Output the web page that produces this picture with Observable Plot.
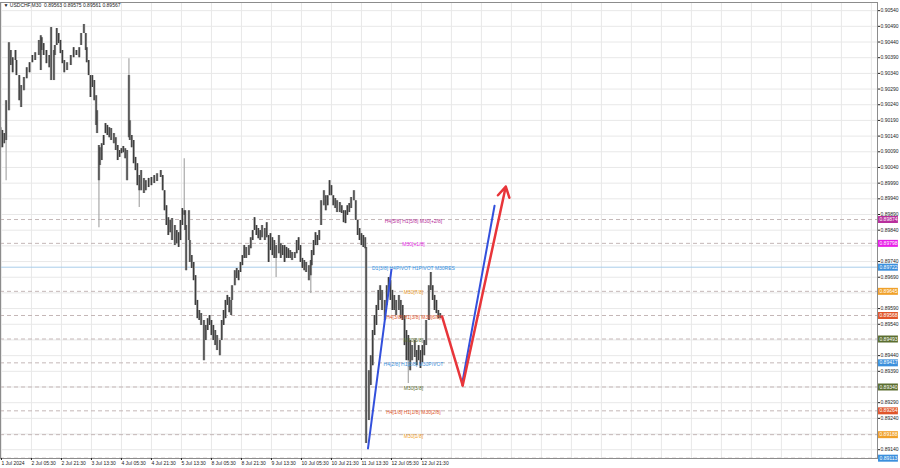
<!DOCTYPE html>
<html><head><meta charset="utf-8">
<script src="https://cdn.jsdelivr.net/npm/d3@7"></script>
<script src="https://cdn.jsdelivr.net/npm/@observablehq/plot@0.6"></script>
<style>body{margin:0;background:#fff;} #chart svg{display:block;}</style>
</head><body><div id="chart"></div>
<script>
const symbolTitle = "\u25BC USDCHF,M30  0.89563 0.89575 0.89561 0.89567";

// [bar index, high, low]
const priceBars = [
[0,0.90167,0.90103],[2,0.90158,0.90103],[4,0.90148,0.90116],[6,0.90253,0.90126],[9,0.90438,0.90221],
[11,0.90413,0.90365],[13,0.90390,0.90342],[16,0.90413,0.90381],[17,0.90381,0.90333],[20,0.90333,0.90253],
[22,0.90301,0.90231],[25,0.90327,0.90285],[28,0.90358,0.90323],[31,0.90374,0.90342],[34,0.90397,0.90374],
[37,0.90406,0.90381],[41,0.90445,0.90397],[43,0.90460,0.90349],[44,0.90454,0.90413],[46,0.90435,0.90397],
[49,0.90413,0.90371],[52,0.90397,0.90358],[54,0.90486,0.90317],[57,0.90413,0.90317],[58,0.90429,0.90397],
[60,0.90483,0.90429],[62,0.90467,0.90435],[64,0.90445,0.90403],[66,0.90413,0.90371],[68,0.90381,0.90342],
[71,0.90374,0.90349],[75,0.90397,0.90365],[78,0.90422,0.90390],[81,0.90413,0.90397],[84,0.90422,0.90390],
[86,0.90467,0.90429],[89,0.90496,0.90467],[91,0.90467,0.90413],[92,0.90422,0.90374],[94,0.90381,0.90333],
[96,0.90333,0.90263],[98,0.90333,0.90295],[100,0.90317,0.90253],[102,0.90269,0.90174],[103,0.90221,0.90148],
[105,0.90110,0.89998],[106,0.90103,0.90046],[108,0.90116,0.90062],[110,0.90142,0.90110],[112,0.90180,0.90148],
[114,0.90174,0.90142],[116,0.90167,0.90135],[118,0.90164,0.90126],[121,0.90148,0.90116],[123,0.90135,0.90094],
[125,0.90110,0.90062],[127,0.90094,0.90072],[129,0.90100,0.90084],[131,0.90107,0.90087],[133,0.90100,0.90068],
[135,0.90094,0.89998],[137,0.90333,0.90135],[138,0.90189,0.90126],[140,0.90142,0.90103],[142,0.90126,0.90052],
[144,0.90072,0.90030],[146,0.90052,0.89982],[148,0.90014,0.89966],[150,0.90030,0.89966],[153,0.90005,0.89957],
[155,0.89998,0.89966],[158,0.90005,0.89976],[161,0.90008,0.89982],[164,0.90014,0.89989],[167,0.90020,0.89995],
[171,0.90030,0.90008],[173,0.90014,0.89966],[175,0.89966,0.89902],[177,0.89918,0.89855],[179,0.89880,0.89823],
[181,0.89871,0.89832],[183,0.89877,0.89807],[186,0.89855,0.89791],[188,0.89839,0.89797],[190,0.89832,0.89785],
[192,0.89871,0.89807],[194,0.89909,0.89855],[196,0.89902,0.89887],[197,0.89902,0.89839],[198,0.89855,0.89711],
[201,0.89902,0.89807],[202,0.89807,0.89737],[204,0.89759,0.89718],[206,0.89737,0.89679],[208,0.89695,0.89600],
[210,0.89616,0.89558],[212,0.89584,0.89552],[214,0.89574,0.89536],[217,0.89552,0.89424],[219,0.89536,0.89488],
[221,0.89558,0.89520],[223,0.89568,0.89536],[225,0.89552,0.89504],[227,0.89536,0.89488],[229,0.89520,0.89472],
[231,0.89504,0.89456],[234,0.89488,0.89440],[236,0.89552,0.89488],[238,0.89584,0.89536],[240,0.89616,0.89558],
[242,0.89632,0.89600],[244,0.89625,0.89577],[246,0.89616,0.89568],[247,0.89663,0.89616],[250,0.89711,0.89663],
[252,0.89718,0.89686],[254,0.89711,0.89679],[256,0.89737,0.89705],[258,0.89759,0.89727],[260,0.89791,0.89750],
[262,0.89785,0.89750],[265,0.89791,0.89759],[267,0.89816,0.89781],[269,0.89839,0.89807],[271,0.89880,0.89839],
[273,0.89855,0.89823],[275,0.89845,0.89813],[277,0.89839,0.89807],[279,0.89855,0.89816],[282,0.89845,0.89807],
[284,0.89864,0.89816],[286,0.89823,0.89737],[288,0.89829,0.89775],[290,0.89816,0.89759],[292,0.89807,0.89750],
[294,0.89791,0.89750],[297,0.89823,0.89765],[299,0.89797,0.89750],[301,0.89791,0.89759],[303,0.89791,0.89737],
[305,0.89785,0.89750],[307,0.89781,0.89750],[309,0.89775,0.89750],[311,0.89769,0.89743],[314,0.89769,0.89750],
[316,0.89807,0.89765],[318,0.89816,0.89775],[320,0.89791,0.89737],[322,0.89750,0.89718],[324,0.89743,0.89711],
[326,0.89737,0.89705],[329,0.89727,0.89679],[331,0.89743,0.89695],[332,0.89775,0.89727],[334,0.89807,0.89759],
[336,0.89832,0.89791],[338,0.89823,0.89791],[340,0.89839,0.89807],[342,0.89934,0.89855],[345,0.89966,0.89918],
[347,0.89950,0.89902],[349,0.89950,0.89918],[351,0.89998,0.89950],[353,0.89982,0.89950],[355,0.89950,0.89918],
[357,0.89941,0.89909],[359,0.89934,0.89896],[362,0.89928,0.89896],[364,0.89918,0.89893],[366,0.89902,0.89864],
[368,0.89902,0.89861],[370,0.89918,0.89887],[372,0.89925,0.89896],[374,0.89944,0.89909],[377,0.89966,0.89934],
[379,0.89934,0.89871],[381,0.89871,0.89823],[383,0.89845,0.89807],[385,0.89829,0.89791],[387,0.89823,0.89785],
[389,0.89816,0.89781],[390,0.89785,0.89160],[393,0.89392,0.89233],[395,0.89440,0.89345],[397,0.89520,0.89408],
[399,0.89568,0.89504],[401,0.89600,0.89536],[403,0.89648,0.89584],[405,0.89663,0.89616],[407,0.89648,0.89584],
[410,0.89616,0.89552],[412,0.89663,0.89600],[414,0.89689,0.89641],[416,0.89679,0.89616],[418,0.89648,0.89584],
[420,0.89632,0.89584],[422,0.89616,0.89568],[425,0.89632,0.89584],[427,0.89616,0.89558],[429,0.89600,0.89552],
[431,0.89568,0.89472],[433,0.89520,0.89424],[435,0.89504,0.89424],[437,0.89488,0.89392],[439,0.89472,0.89424],
[442,0.89488,0.89434],[444,0.89456,0.89408],[446,0.89472,0.89424],[448,0.89456,0.89399],[450,0.89472,0.89418],
[452,0.89488,0.89440],[454,0.89552,0.89472],[457,0.89663,0.89552],[459,0.89705,0.89648],[461,0.89663,0.89616],
[463,0.89632,0.89584],[465,0.89616,0.89574],[467,0.89584,0.89558],[469,0.89574,0.89558]
];

// long shadows: [bar index, high, low]
const wickBars = [
[6,0.90253,0.89998],[105,0.90110,0.89848],[137,0.90387,0.90317],[148,0.90014,0.89912],
[196,0.90068,0.89902],[294,0.89791,0.89689],[331,0.89743,0.89638],[435,0.89504,0.89351]
];

const dateTickBars = [1,33,65,97,129,161,193,225,257,289,321,353,385,417,449];
const dateTickLabels = ["1 Jul 2024","2 Jul 05:30","2 Jul 21:30","3 Jul 13:30","4 Jul 05:30","4 Jul 21:30",
  "5 Jul 13:30","8 Jul 05:30","8 Jul 21:30","9 Jul 13:30","10 Jul 05:30","10 Jul 21:30","11 Jul 13:30",
  "12 Jul 05:30","12 Jul 21:30"];

const priceTickLabels = [0.90540,0.90490,0.90440,0.90390,0.90340,0.90290,0.90240,0.90190,0.90140,0.90090,
  0.90040,0.89990,0.89940,0.89890,0.89840,0.89740,0.89690,0.89590,0.89540,0.89440,0.89390,0.89290,0.89240,0.89140];

const levelPrices = [0.89874,0.89798,0.89722,0.89645,0.89568,0.89493,0.89417,0.89340,0.89264,0.89188,0.89113];
const levelLabels = ["H4[5/8] H1[5/8] M30[+2/8]","M30[+1/8]","D1[3/8] H4PIVOT H1PIVOT M30RES","M30[7/8]",
  "H4[3/8] H1[3/8] M30[6/8]","M30[5/8]","H4[2/8] H1[2/8] M30PIVOT","M30[3/8]","H4[1/8] H1[1/8] M30[2/8]","M30[1/8]",""];
const levelColors = ["#b8309c","#e81de8","#3b8fdc","#f0a12a","#e0552a","#5b6e30","#3b8fdc","#5b6e30","#e0552a","#f0a12a","#3b8fdc"];

const redPathBars = [471,493,539];
const redPathPrices = [0.89565,0.89345,0.89979];
const blueLineABars = [392,417];
const blueLineAPrices = [0.89144,0.89714];
const blueLineBBars = [493,527];
const blueLineBPrices = [0.89360,0.89918];

// ---- build tables ----
const bars = priceBars.map(([b,h,l]) => ({b,h,l}));
const wicks = wickBars.map(([b,h,l]) => ({b,h,l}));
const levels = levelPrices.map((p,i) => ({p, label: levelLabels[i], color: levelColors[i], pivot: i === 2}));
const red = redPathBars.map((b,i) => ({b, p: redPathPrices[i]}));
const blueA = blueLineABars.map((b,i) => ({b, p: blueLineAPrices[i]}));
const blueB = blueLineBBars.map((b,i) => ({b, p: blueLineBPrices[i]}));
const gridBars = d3.range(1, 935, 32);
const gridPrices = d3.range(0.8914, 0.9056, 0.0005);

const BOX_X1 = 936.6, BOX_X2 = 957.8, BOX_XC = 947.2, LABEL_X = 440.5;

const chart = Plot.plot({
  width: 900, height: 468,
  marginLeft: 0, marginRight: 23, marginTop: 2, marginBottom: 10,
  x: {domain: [0, 935.5], axis: null},
  y: {domain: [0.89112, 0.90566], axis: null},
  style: {fontFamily: "'Liberation Sans', Arial, sans-serif", background: "#fff", overflow: "visible"},
  marks: [
    Plot.ruleX(gridBars, {stroke: "#e8e8e8", strokeWidth: 1}),
    Plot.ruleY(gridPrices, {stroke: "#e8e8e8", strokeWidth: 1}),
    Plot.ruleY(levels.filter(d => !d.pivot), {y: "p", stroke: "#c4b7b7", strokeDasharray: "4,3", strokeWidth: 1}),
    Plot.ruleY(levels.filter(d => d.pivot), {y: "p", stroke: "#a9cdea", strokeWidth: 1}),
    Plot.ruleX(wicks, {x: "b", y1: "l", y2: "h", stroke: "#a8a8a8", strokeWidth: 1.2}),
    Plot.ruleX(bars, {x: "b", y1: "l", y2: "h", stroke: "#b0b0b0", strokeWidth: 2.6}),
    Plot.ruleX(bars, {x: "b", y1: "l", y2: "h", stroke: "#3d3d3d", strokeWidth: 1.3}),
    Plot.text(levels.filter(d => d.label), {x: LABEL_X, y: "p", text: "label", fill: "color", fontSize: 5, dy: 1.5}),
    Plot.line(blueA, {x: "b", y: "p", stroke: "#3350dc", strokeWidth: 2}),
    Plot.line(blueB, {x: "b", y: "p", stroke: "#3350dc", strokeWidth: 2}),
    Plot.line(red.slice(0, 2), {x: "b", y: "p", stroke: "#e8353a", strokeWidth: 2.5}),
    Plot.arrow([red[1]], {x1: "b", y1: "p", x2: () => red[2].b, y2: () => red[2].p, stroke: "#e8353a", strokeWidth: 2.5, headLength: 7}),
    Plot.frame({stroke: "#8c8c8c", strokeWidth: 1}),
    Plot.axisY({anchor: "right", ticks: priceTickLabels, tickFormat: d => d.toFixed(5), tickSize: 2, tickPadding: 1, fontSize: 5, label: null, color: "#222"}),
    Plot.axisX({ticks: dateTickBars, tickFormat: d => dateTickLabels[dateTickBars.indexOf(d)], tickSize: 2, tickPadding: 1, fontSize: 5, textAnchor: "start", label: null, color: "#222"}),
    Plot.ruleY(levels, {y: "p", x1: BOX_X1, x2: BOX_X2, stroke: "color", strokeWidth: 7}),
    Plot.text(levels, {y: "p", x: BOX_XC, text: d => d.p.toFixed(5), fill: "#fff", fontSize: 5}),
    Plot.text([symbolTitle], {frameAnchor: "top-left", dx: 3, dy: 1, fontSize: 5, fill: "#222", lineAnchor: "top"})
  ]
});
document.getElementById("chart").appendChild(chart);
</script>
</body></html>
